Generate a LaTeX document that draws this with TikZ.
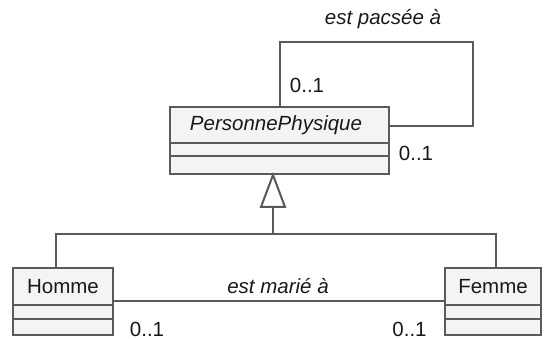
\documentclass[tikz,border=0pt]{standalone}
\usepackage{fontspec}
\setmainfont{Liberation Sans}
\usetikzlibrary{calc}
\definecolor{ln}{HTML}{5A5A5A}
\definecolor{bx}{HTML}{F4F4F4}
\tikzset{
  cls/.style={draw=ln, fill=bx, line width=2pt, inner sep=0pt},
  conn/.style={draw=ln, line width=2pt},
  txt/.style={inner sep=0pt, font=\fontsize{20.5}{24}\selectfont, text=black!90},
  itxt/.style={txt, font=\fontsize{20.5}{24}\selectfont\itshape}
}
\begin{document}
\begin{tikzpicture}[x=1pt,y=-1pt]
\useasboundingbox (0,0) rectangle (546,339);
% classes
\node[cls, minimum width=219pt, minimum height=67pt] (pp) at (279.5,140.5) {};
\node[itxt] (ppt) at (276,125) {PersonnePhysique};
\draw[conn] (pp.west |- 0,143) -- (pp.east |- 0,143);
\draw[conn] (pp.west |- 0,156) -- (pp.east |- 0,156);

\node[cls, minimum width=100pt, minimum height=67pt] (hom) at (63,301.5) {};
\node[txt] (homt) at (63,287) {Homme};
\draw[conn] (hom.west |- 0,305) -- (hom.east |- 0,305);
\draw[conn] (hom.west |- 0,319) -- (hom.east |- 0,319);

\node[cls, minimum width=96pt, minimum height=67pt] (fem) at (493,301.5) {};
\node[txt] (femt) at (493,287) {Femme};
\draw[conn] (fem.west |- 0,305) -- (fem.east |- 0,305);
\draw[conn] (fem.west |- 0,319) -- (fem.east |- 0,319);

% self association
\coordinate (pa) at (473,42);
\draw[conn] ([xshift=111pt]pp.north west) |- (pa) |- ([yshift=14.5pt]pp.east);
\node[itxt] (lpa) at (383,19) {est pacsée à};
\node[txt] (m1) at (307,85) {0..1};
\node[txt] (m2) at (416,153) {0..1};

% generalization
\coordinate (apex) at ([xshift=-6.5pt]pp.south);
\coordinate (tb) at ($(apex)+(0,32)$);
\coordinate (bar) at ($(tb)+(0,27)$);
\draw[conn] (tb) -- (bar);
\draw[conn] ([xshift=-7pt]hom.north) |- (bar) -| ([xshift=3pt]fem.north);
\draw[conn, fill=white, line join=miter] (apex) -- ($(tb)+(-12,0)$) -- ($(tb)+(12,0)$) -- cycle;

% marriage
\draw[conn] ([yshift=0.5pt]hom.east) -- ([yshift=0.5pt]fem.west);
\node[itxt] (lma) at (278,286) {est marié à};
\node[txt] (m3) at (147,329) {0..1};
\node[txt] (m4) at (409.5,329) {0..1};
\end{tikzpicture}
\end{document}
